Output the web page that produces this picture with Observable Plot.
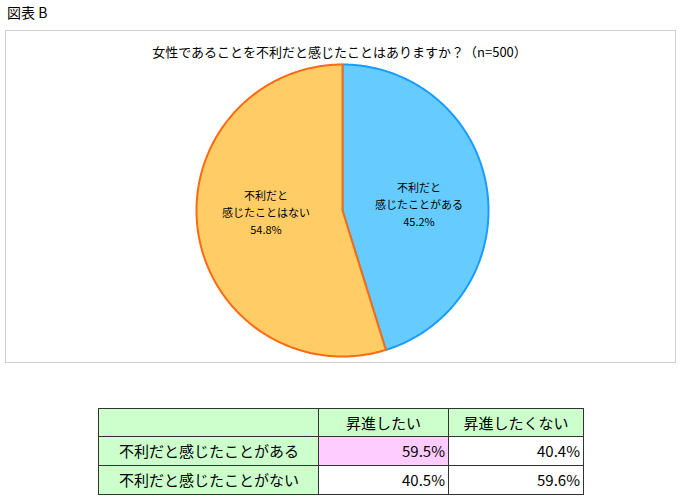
<!DOCTYPE html>
<html><head><meta charset="utf-8">
<script src="https://cdn.jsdelivr.net/npm/d3@7"></script>
<script src="https://cdn.jsdelivr.net/npm/@observablehq/plot@0.6"></script>
<style>
body{margin:0;background:#fff;font-family:"Noto Sans CJK JP","Noto Sans",sans-serif;color:#000;}
#page{position:relative;width:681px;height:500px;overflow:hidden;}
#fig{position:absolute;left:7px;top:3px;font-size:14px;line-height:18px;}
#box{position:absolute;left:5px;top:30px;width:669px;height:331px;border:1px solid #d0d0d0;}
#ctitle{position:absolute;left:2px;top:13px;width:663px;text-align:center;font-size:13px;line-height:16px;}
#chart{position:absolute;left:0;top:0;}
table{position:absolute;left:98px;top:408px;border-collapse:collapse;font-size:15px;table-layout:fixed;}
td{border:1px solid #333;padding:0 3px;height:27px;line-height:18px;}
td.h{text-align:center;background:#ccffcc;}
td.r{text-align:left;background:#ccffcc;padding-left:20px;}
td.v{text-align:right;background:#fff;}
td.pink{background:#ffccff;}
</style>
</head><body>
<div id="page">
  <div id="fig">図表 B</div>
  <div id="box">
    <div id="chart"></div>
    <div id="ctitle">女性であることを不利だと感じたことはありますか？（n=500）</div>
  </div>
  <table id="tbl"></table>
</div>
<script>
// ---- data ----
const categories = ["不利だと感じたことがある", "不利だと感じたことはない"];
const shares = [45.2, 54.8];
const labelLines = [["不利だと", "感じたことがある"], ["不利だと", "感じたことはない"]];
const fills = ["#66ccff", "#ffcc66"];
const strokes = ["#1a9cff", "#ff6a10"];

const rowLabels = ["不利だと感じたことがある", "不利だと感じたことがない"];
const colLabels = ["昇進したい", "昇進したくない"];
const tableValues = [[59.5, 40.4], [40.5, 59.6]];

// ---- pie geometry via d3.pie ----
const arcs = d3.pie().sort(null)(shares);
const slicePts = arcs.map((a, i) => {
  const pts = [{x: 0, y: 0}];
  const n = Math.max(2, Math.ceil((a.endAngle - a.startAngle) / (Math.PI / 360)));
  for (let k = 0; k <= n; k++) {
    const t = a.startAngle + (a.endAngle - a.startAngle) * k / n;
    pts.push({x: Math.sin(t), y: Math.cos(t)});
  }
  pts.push({x: 0, y: 0});
  return pts;
});
const labels = arcs.map((a, i) => {
  const m = (a.startAngle + a.endAngle) / 2;
  return {
    x: 0.53 * Math.sin(m),
    y: 0.53 * Math.cos(m) * 0.35,
    text: labelLines[i].join("\n") + "\n" + shares[i].toFixed(1) + "%"
  };
});

const marks = [];
slicePts.forEach((pts, i) => {
  marks.push(Plot.line(pts, {x: "x", y: "y", fill: fills[i], stroke: strokes[i], strokeWidth: 2, strokeLinejoin: "round"}));
});
marks.push(Plot.text(labels, {x: "x", y: "y", text: "text", fontSize: 11, lineHeight: 1.55, fill: "#000", dy: -3,
  fontFamily: "Noto Sans CJK JP, sans-serif"}));

const plot = Plot.plot({
  width: 669, height: 331,
  marginLeft: 190, marginRight: 187, marginTop: 33, marginBottom: 6,
  x: {domain: [-1, 1], axis: null},
  y: {domain: [-1, 1], axis: null},
  style: {background: "transparent", overflow: "visible"},
  marks
});
document.getElementById("chart").appendChild(plot);

// ---- table ----
const tbl = document.getElementById("tbl");
const colW = [220, 130, 135];
const cg = document.createElement("colgroup");
colW.forEach(w => { const c = document.createElement("col"); c.style.width = w + "px"; cg.appendChild(c); });
tbl.appendChild(cg);
const hr = document.createElement("tr");
const h0 = document.createElement("td"); h0.className = "h"; hr.appendChild(h0);
colLabels.forEach(c => { const td = document.createElement("td"); td.className = "h"; td.textContent = c; hr.appendChild(td); });
tbl.appendChild(hr);
rowLabels.forEach((r, i) => {
  const tr = document.createElement("tr");
  const th = document.createElement("td"); th.className = "r"; th.textContent = r; tr.appendChild(th);
  tableValues[i].forEach((v, j) => {
    const td = document.createElement("td");
    td.className = "v" + (i === 0 && j === 0 ? " pink" : "");
    td.textContent = v.toFixed(1) + "%";
    tr.appendChild(td);
  });
  tr.style.height = "29px";
  tbl.appendChild(tr);
});
</script>
</body></html>
